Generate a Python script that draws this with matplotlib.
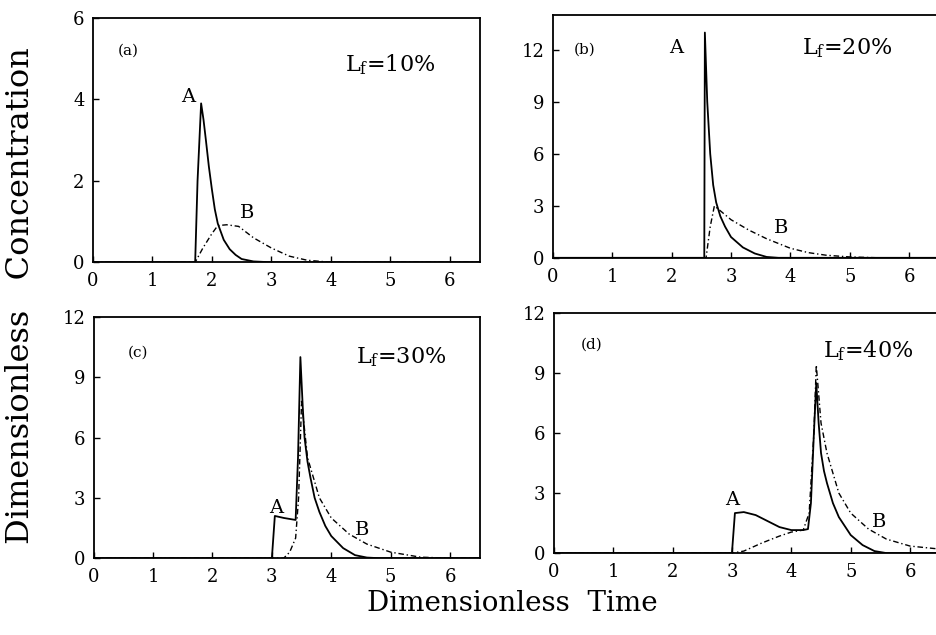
import matplotlib
matplotlib.use("Agg")
import matplotlib.pyplot as plt

plt.rcParams['font.family'] = ['DejaVu Serif']
plt.rcParams['mathtext.fontset'] = 'dejavuserif'

# Panel (a) Lf=10%
a_A_x = [0, 1.72, 1.76, 1.82, 1.86, 1.9, 1.95, 2.0, 2.05, 2.1, 2.2, 2.3, 2.4, 2.5, 2.7, 3.0, 6.5]
a_A_y = [0, 0, 2.0, 3.9, 3.5, 3.0, 2.35, 1.8, 1.3, 0.95, 0.55, 0.32, 0.18, 0.08, 0.02, 0, 0]
a_B_x = [0, 1.72, 1.85, 2.0, 2.1, 2.25, 2.45, 2.7, 3.0, 3.3, 3.6, 4.0, 6.5]
a_B_y = [0, 0, 0.35, 0.7, 0.9, 0.92, 0.88, 0.6, 0.35, 0.15, 0.05, 0, 0]

# Panel (b) Lf=20%
b_A_x = [0, 2.55, 2.56, 2.6, 2.65, 2.7, 2.75, 2.82, 2.9, 3.0, 3.2, 3.4, 3.6, 3.8, 6.5]
b_A_y = [0, 0, 13.0, 9.0, 6.0, 4.2, 3.2, 2.4, 1.8, 1.2, 0.6, 0.25, 0.05, 0, 0]
b_B_x = [0, 2.58, 2.65, 2.72, 3.0, 3.3, 3.6, 4.0, 4.3, 4.6, 5.0, 5.5, 6.5]
b_B_y = [0, 0, 1.8, 3.0, 2.2, 1.6, 1.1, 0.55, 0.3, 0.15, 0.05, 0, 0]

# Panel (c) Lf=30%
c_A_x = [0, 3.0, 3.05, 3.2, 3.4, 3.44, 3.48, 3.52, 3.55, 3.6, 3.65, 3.72, 3.8, 3.9, 4.0, 4.2, 4.4, 4.6, 4.8, 6.5]
c_A_y = [0, 0, 2.1, 2.0, 1.9, 5.0, 10.0, 7.5, 6.0, 4.8, 4.0, 3.0, 2.3, 1.6, 1.1, 0.5, 0.15, 0.03, 0, 0]
c_B_x = [0, 3.2, 3.3, 3.4, 3.45, 3.5, 3.6, 3.8, 4.0, 4.3, 4.6, 5.0, 5.5, 6.0, 6.5]
c_B_y = [0, 0, 0.3, 1.0, 3.0, 7.8, 5.0, 3.0, 2.0, 1.2, 0.7, 0.3, 0.05, 0, 0]

# Panel (d) Lf=40%
d_A_x = [0, 3.0, 3.05, 3.2, 3.4, 3.6, 3.8, 4.0, 4.2, 4.28, 4.33, 4.38, 4.42, 4.46, 4.5, 4.55, 4.6, 4.7, 4.8, 5.0, 5.2, 5.4, 5.6, 6.5]
d_A_y = [0, 0, 2.0, 2.05, 1.9, 1.6, 1.3, 1.15, 1.15, 1.2, 2.5, 6.0, 8.5, 6.5, 5.0, 4.1, 3.5, 2.5, 1.8, 0.9, 0.4, 0.1, 0, 0]
d_B_x = [0, 3.0, 3.2, 3.5, 3.8, 4.0, 4.2, 4.3, 4.38, 4.42, 4.5, 4.6, 4.8, 5.0, 5.3, 5.6, 6.0, 6.5]
d_B_y = [0, 0, 0.1, 0.5, 0.85, 1.05, 1.15, 2.0, 6.0, 9.4, 6.5, 5.0, 3.0, 2.0, 1.2, 0.7, 0.35, 0.2]

x_ticks = [0, 1, 2, 3, 4, 5, 6]

fig = plt.figure(figsize=(9.37, 6.35), dpi=100)

panels = [
    dict(pos=[0.099, 0.587, 0.413, 0.385], A=(a_A_x, a_A_y), B=(a_B_x, a_B_y),
         ylim=6, yticks=[0, 2, 4, 6], tag="(a)", tagxy=(0.59, 5.2),
         lf="10%", lfxy=(5.0, 4.85), Axy=(1.6, 4.05), Bxy=(2.6, 1.2)),
    dict(pos=[0.590, 0.594, 0.412, 0.382], A=(b_A_x, b_A_y), B=(b_B_x, b_B_y),
         ylim=14, yticks=[0, 3, 6, 9, 12], tag="(b)", tagxy=(0.54, 12.0),
         lf="20%", lfxy=(4.96, 12.1), Axy=(2.08, 12.1), Bxy=(3.85, 1.7)),
    dict(pos=[0.100, 0.121, 0.412, 0.380], A=(c_A_x, c_A_y), B=(c_B_x, c_B_y),
         ylim=12, yticks=[0, 3, 6, 9, 12], tag="(c)", tagxy=(0.74, 10.2),
         lf="30%", lfxy=(5.18, 10.0), Axy=(3.07, 2.5), Bxy=(4.52, 1.4)),
    dict(pos=[0.591, 0.129, 0.412, 0.378], A=(d_A_x, d_A_y), B=(d_B_x, d_B_y),
         ylim=12, yticks=[0, 3, 6, 9, 12], tag="(d)", tagxy=(0.64, 10.4),
         lf="40%", lfxy=(5.3, 10.1), Axy=(3.0, 2.65), Bxy=(5.48, 1.55)),
]

for p in panels:
    ax = fig.add_axes(p['pos'])
    ax.plot(*p['A'], color='black', lw=1.3, ls='-')
    ax.plot(*p['B'], color='black', lw=1.0, ls=(0, (4, 2, 1, 2)))
    ax.set_xlim(0, 6.5)
    ax.set_ylim(0, p['ylim'])
    ax.set_xticks(x_ticks)
    ax.set_yticks(p['yticks'])
    ax.tick_params(direction='in', labelsize=13, length=4, width=1)
    ax.tick_params(axis='x', pad=7)
    ax.tick_params(axis='y', pad=6)
    for s in ax.spines.values():
        s.set_linewidth(1.3)
    ax.text(*p['tagxy'], p['tag'], fontsize=11, ha='center', va='center')
    ax.text(*p['lfxy'], r"L$_\mathrm{f}$=" + p['lf'], fontsize=16, ha='center', va='center')
    ax.text(*p['Axy'], "A", fontsize=14, ha='center', va='center')
    ax.text(*p['Bxy'], "B", fontsize=14, ha='center', va='center')

fig.text(0.022, 0.535, "Dimensionless   Concentration", rotation=90, fontsize=23,
         ha='center', va='center')
fig.text(0.547, 0.05, "Dimensionless  Time", fontsize=20, ha='center', va='center')

fig.savefig("out.png", dpi=100)
